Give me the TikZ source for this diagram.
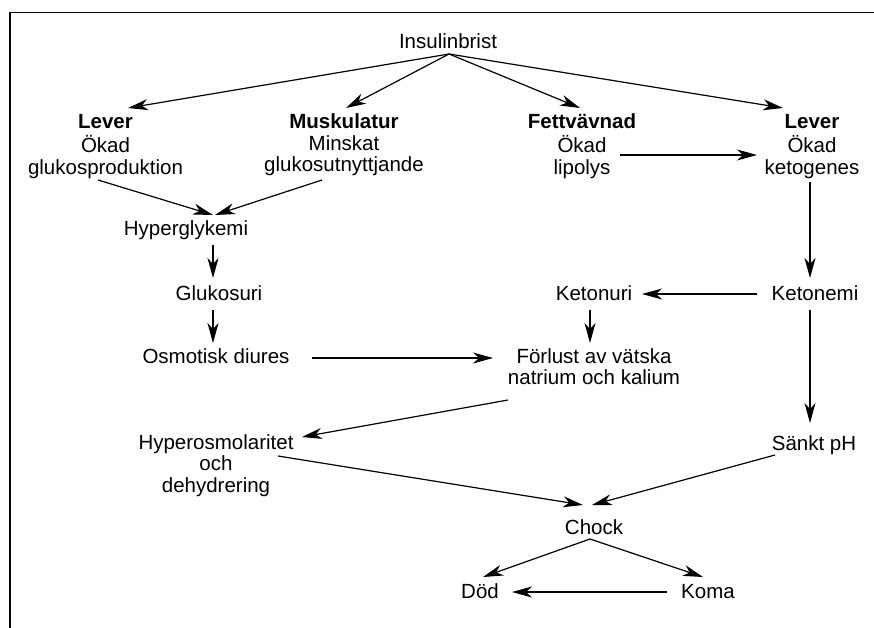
\documentclass[tikz,border=0pt]{standalone}
\usepackage{fontspec}
\setmainfont{Liberation Sans}
\usetikzlibrary{arrows.meta}
\newcommand{\stack}[1]{\begin{tabular}[t]{@{}c@{}}#1\end{tabular}}
\begin{document}
\begin{tikzpicture}[x=1pt,y=-1pt,
  arr/.style={-{Stealth[length=20pt,width=11pt,inset=6pt]}, line width=1.2pt},
  lbl/.style={inner sep=0pt, anchor=base, font=\fontsize{20.5}{21.5}\selectfont},
  frame/.style={line width=1.5pt}]
\useasboundingbox (0,0) rectangle (874,628);
\draw[frame] (10,628) -- (10,12.5) -- (874,12.5);

% nodes
\node[lbl] (ins) at (448,49) {Insulinbrist};
\node[lbl] (leverL) at (105.5,129) {\stack{\textbf{Lever}\\Ökad\\glukosproduktion}};
\node[lbl] (musk) at (344,129) {\stack{\textbf{Muskulatur}\\Minskat\\glukosutnyttjande}};
\node[lbl] (fett) at (582,129) {\stack{\textbf{Fettvävnad}\\Ökad\\lipolys}};
\node[lbl] (leverR) at (812,129) {\stack{\textbf{Lever}\\Ökad\\ketogenes}};
\node[lbl] (hyperg) at (186,235) {Hyperglykemi};
\node[lbl] (glukos) at (219,300) {Glukosuri};
\node[lbl] (osmo) at (216,363) {Osmotisk diures};
\node[lbl] (ketonuri) at (594,300) {Ketonuri};
\node[lbl] (ketonemi) at (815,300) {Ketonemi};
\node[lbl] (forlust) at (594,363) {\stack{Förlust av vätska\\natrium och kalium}};
\node[lbl] (hyperos) at (216,449) {\stack{Hyperosmolaritet\\och\\dehydrering}};
\node[lbl] (sankt) at (814,450) {Sänkt pH};
\node[lbl] (chock) at (594,534) {Chock};
\node[lbl] (dod) at (480,598) {Död};
\node[lbl] (koma) at (708,598) {Koma};

% connector end points
\coordinate (ins-o) at (449,54);
\coordinate (leverL-i) at (128,108);
\coordinate (musk-i) at (346,108);
\coordinate (fett-i) at (580,108);
\coordinate (leverR-i) at (783,108);
\coordinate (leverL-o) at (98,180);
\coordinate (musk-o) at (322,180);
\coordinate (hyperg-i1) at (213,215);
\coordinate (hyperg-i2) at (215,215);
\coordinate (hyperg-o) at (213,245);
\coordinate (glukos-i) at (213,278);
\coordinate (glukos-o) at (213,310);
\coordinate (osmo-i) at (213,343);
\coordinate (osmo-o) at (312,358);
\coordinate (forlust-i1) at (493,358);
\coordinate (fett-o) at (620,155);
\coordinate (leverR-i2) at (757,155);
\coordinate (leverR-o) at (810,182);
\coordinate (ketonemi-i) at (810,278);
\coordinate (ketonemi-o1) at (757,294);
\coordinate (ketonuri-i) at (642,294);
\coordinate (ketonuri-o) at (590,310);
\coordinate (forlust-i2) at (590,343);
\coordinate (ketonemi-o2) at (810,310);
\coordinate (sankt-i) at (810,423);
\coordinate (forlust-o) at (508,400);
\coordinate (hyperos-i) at (302,437);
\coordinate (hyperos-o) at (278,456);
\coordinate (chock-i1) at (583,505);
\coordinate (sankt-o) at (775,455);
\coordinate (chock-i2) at (592,505);
\coordinate (chock-o) at (590,539);
\coordinate (dod-i1) at (483,577);
\coordinate (koma-i) at (703,577);
\coordinate (koma-o) at (667,592);
\coordinate (dod-i2) at (512,592);

% connectors
\draw[arr] (ins-o) -- (leverL-i);
\draw[arr] (ins-o) -- (musk-i);
\draw[arr] (ins-o) -- (fett-i);
\draw[arr] (ins-o) -- (leverR-i);
\draw[arr] (leverL-o) -- (hyperg-i1);
\draw[arr] (musk-o) -- (hyperg-i2);
\draw[arr] (hyperg-o) -- (glukos-i);
\draw[arr] (glukos-o) -- (osmo-i);
\draw[arr] (osmo-o) -- (forlust-i1);
\draw[arr] (fett-o) -- (leverR-i2);
\draw[arr] (leverR-o) -- (ketonemi-i);
\draw[arr] (ketonemi-o1) -- (ketonuri-i);
\draw[arr] (ketonuri-o) -- (forlust-i2);
\draw[arr] (ketonemi-o2) -- (sankt-i);
\draw[arr] (forlust-o) -- (hyperos-i);
\draw[arr] (hyperos-o) -- (chock-i1);
\draw[arr] (sankt-o) -- (chock-i2);
\draw[arr] (chock-o) -- (dod-i1);
\draw[arr] (chock-o) -- (koma-i);
\draw[arr] (koma-o) -- (dod-i2);
\end{tikzpicture}
\end{document}
